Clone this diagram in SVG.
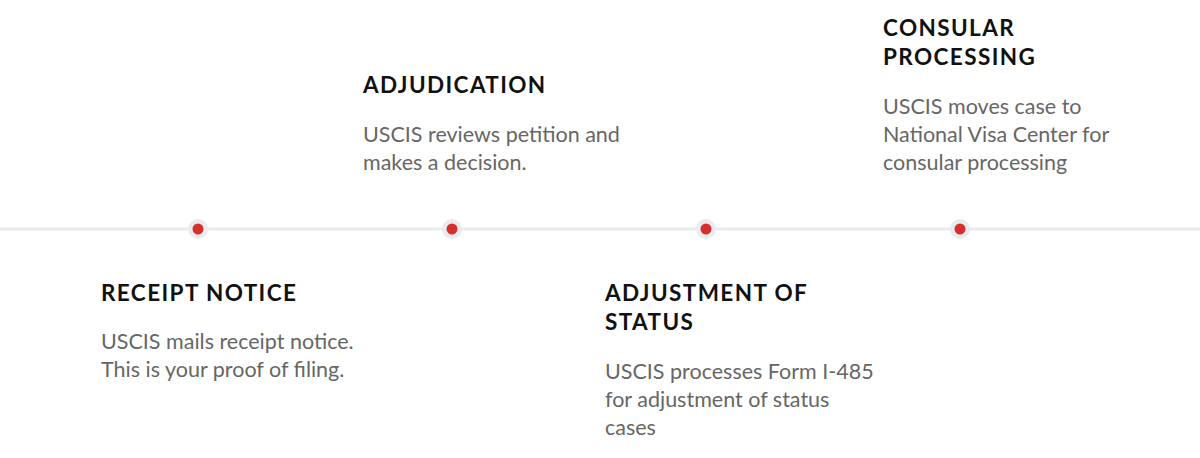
<svg xmlns="http://www.w3.org/2000/svg" width="1200" height="458" viewBox="0 0 1200 458">
<style>
.h{font-family:Lato,"Liberation Sans",sans-serif;font-weight:700;font-size:22.5px;fill:#111;letter-spacing:1.4px}
.b{font-family:Lato,"Liberation Sans",sans-serif;font-size:21.5px;fill:#666}
.halo{fill:#e9ecef}
.dot{fill:#d6302c}
</style>
<rect width="1200" height="458" fill="#fff"/>
<g id="connectors">
<line x1="0" y1="229" x2="1200" y2="229" stroke="#e9ecef" stroke-width="3"/>
</g>
<g id="n1">
<circle class="halo" cx="198" cy="229" r="10"/><circle class="dot" cx="198" cy="229" r="5.5"/>
<text class="h" x="101" y="301">RECEIPT NOTICE</text>
<text class="b" x="101" y="349">USCIS mails receipt notice.</text>
<text class="b" x="101" y="377">This is your proof of filing.</text>
</g>
<g id="n2">
<circle class="halo" cx="452" cy="229" r="10"/><circle class="dot" cx="452" cy="229" r="5.5"/>
<text class="h" x="363" y="93">ADJUDICATION</text>
<text class="b" x="363" y="142">USCIS reviews petition and</text>
<text class="b" x="363" y="170">makes a decision.</text>
</g>
<g id="n3">
<circle class="halo" cx="706" cy="229" r="10"/><circle class="dot" cx="706" cy="229" r="5.5"/>
<text class="h" x="605" y="301">ADJUSTMENT OF</text>
<text class="h" x="605" y="330">STATUS</text>
<text class="b" x="605" y="379">USCIS processes Form I-485</text>
<text class="b" x="605" y="407">for adjustment of status</text>
<text class="b" x="605" y="435">cases</text>
</g>
<g id="n4">
<circle class="halo" cx="960" cy="229" r="10"/><circle class="dot" cx="960" cy="229" r="5.5"/>
<text class="h" x="883" y="36">CONSULAR</text>
<text class="h" x="883" y="65">PROCESSING</text>
<text class="b" x="883" y="114">USCIS moves case to</text>
<text class="b" x="883" y="142">National Visa Center for</text>
<text class="b" x="883" y="170">consular processing</text>
</g>
</svg>
